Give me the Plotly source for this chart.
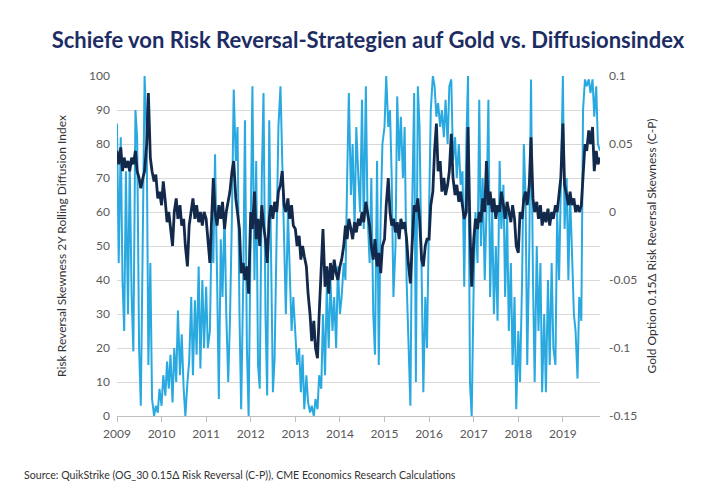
import pandas as pd
import plotly.graph_objects as go

# half-monthly readings, Jan 2009 - Oct 2019
diffusion_2009 = [86, 45, 82, 40, 25, 72, 30, 74, 35, 19, 90, 82, 20, 3, 55, 100, 83, 15, 45, 5, 0, 3, 1, 8]
diffusion_2010 = [3, 12, 6, 16, 8, 18, 4, 20, 10, 31, 12, 24, 8, 0, 10, 16, 35, 12, 34, 18, 44, 14, 40, 20]
diffusion_2011 = [38, 20, 25, 55, 45, 77, 40, 5, 52, 35, 60, 30, 10, 28, 60, 96, 75, 85, 30, 2, 40, 87, 20, 0]
diffusion_2012 = [55, 97, 40, 75, 15, 8, 70, 95, 30, 6, 87, 50, 7, 17, 60, 85, 97, 75, 50, 30, 60, 45, 25, 35]
diffusion_2013 = [22, 15, 20, 7, 18, 2, 12, 4, 1, 3, 0, 5, 2, 12, 8, 30, 12, 38, 20, 40, 25, 35, 20, 44]
diffusion_2014 = [30, 35, 45, 40, 70, 95, 65, 80, 55, 85, 70, 60, 93, 55, 97, 60, 45, 70, 30, 18, 75, 15, 60, 80]
diffusion_2015 = [85, 100, 85, 90, 70, 35, 50, 94, 75, 88, 70, 85, 40, 25, 3, 60, 95, 10, 97, 85, 40, 7, 35, 20]
diffusion_2016 = [60, 90, 100, 97, 88, 92, 85, 90, 82, 93, 80, 97, 99, 75, 82, 70, 80, 68, 72, 38, 80, 100, 10, 0]
diffusion_2017 = [40, 60, 45, 93, 50, 70, 40, 60, 93, 35, 60, 30, 50, 28, 75, 55, 68, 35, 60, 25, 45, 15, 35, 2]
diffusion_2018 = [25, 10, 40, 80, 65, 15, 50, 99, 40, 10, 50, 25, 45, 7, 30, 7, 40, 15, 45, 20, 15, 60, 40, 70]
diffusion_2019 = [100, 55, 70, 40, 65, 50, 30, 25, 11, 35, 28, 90, 99, 97, 99, 95, 99, 88, 97, 80, 78]

skew_2009 = [0.045, 0.035, 0.0475, 0.03, 0.04, 0.0325, 0.0375, 0.03, 0.04, 0.035, 0.045, 0.03,
             0.025, 0.0175, 0.025, 0.03, 0.05, 0.0875, 0.04, 0.03, 0.0225, 0.0275, 0.01, 0.015]
skew_2010 = [0.005, 0.0225, 0.0075, -0.0075, 0, -0.0125, -0.025, 0, 0.01, -0.005, 0.005, -0.01,
             -0.005, -0.025, -0.04, -0.01, 0, 0.01, -0.005, 0.005, -0.0075, 0, -0.01, 0]
skew_2011 = [-0.005, -0.02, -0.0375, -0.005, 0.025, 0, -0.01, 0.005, -0.005, 0.0075, -0.0125, 0,
             0.01, 0.015, 0.03, 0.0375, 0.01, 0, -0.0125, -0.045, -0.0375, -0.05, -0.04, -0.06]
skew_2012 = [0, -0.0125, 0.015, -0.02, -0.005, -0.025, 0.005, -0.01, -0.02, -0.0375, -0.005, 0.005,
             -0.005, 0.0075, 0, 0.015, 0.02, 0.03, 0.005, 0, 0.01, -0.005, 0.005, -0.01]
skew_2013 = [-0.0125, -0.025, -0.0175, -0.035, -0.025, -0.0325, -0.04, -0.06, -0.075, -0.095, -0.08, -0.1,
             -0.1075, -0.075, -0.045, -0.0125, -0.055, -0.04, -0.06, -0.0375, -0.05, -0.035, -0.045, -0.05]
skew_2014 = [-0.04, -0.035, -0.025, -0.01, -0.02, -0.005, -0.0125, -0.02, -0.0075, -0.015, -0.005, -0.01,
             0, -0.0075, 0.0075, 0, -0.01, -0.025, -0.035, -0.02, -0.04, -0.03, -0.045, -0.025]
skew_2015 = [-0.02, 0.005, 0.025, 0, -0.01, -0.005, -0.015, -0.0075, -0.02, -0.005, -0.0125, -0.0075,
             -0.02, -0.0375, -0.0525, -0.025, 0.005, 0, 0.01, -0.005, -0.035, -0.04, -0.025, -0.02]
skew_2016 = [-0.02, 0.005, 0.015, 0.045, 0.065, 0.03, 0.0375, 0.015, 0.025, 0.0125, 0.02, 0.03,
             0.0575, 0.025, 0.0125, 0.02, 0.0075, 0.015, 0.005, -0.005, 0, 0.0625, -0.0125, -0.055]
skew_2017 = [-0.02, -0.005, -0.0125, 0, -0.0075, 0.01, 0, 0.0375, 0.005, 0.015, 0, 0.01,
             -0.005, 0.005, 0, 0.015, 0.005, -0.005, 0.0075, 0, -0.0075, 0.005, -0.005, -0.025]
skew_2018 = [-0.03, 0, -0.005, 0.01, 0.015, 0.005, 0.02, 0.055, 0.01, 0, 0.0075, -0.005,
             0.005, -0.01, 0, -0.0075, 0.0025, -0.01, 0, -0.005, 0.005, 0, 0.015, 0.025]
skew_2019 = [0.065, 0.02, 0.0125, 0.005, 0.015, 0.005, 0.01, 0, 0.005, 0, 0.005, 0.03,
             0.05, 0.045, 0.06, 0.05, 0.0625, 0.03, 0.045, 0.035, 0.04]

diffusion = (diffusion_2009 + diffusion_2010 + diffusion_2011 + diffusion_2012 + diffusion_2013 +
             diffusion_2014 + diffusion_2015 + diffusion_2016 + diffusion_2017 + diffusion_2018 + diffusion_2019)
skew = (skew_2009 + skew_2010 + skew_2011 + skew_2012 + skew_2013 + skew_2014 +
        skew_2015 + skew_2016 + skew_2017 + skew_2018 + skew_2019)

dates = pd.date_range("2009-01-01", periods=len(diffusion), freq="SMS")

year_ticks = [str(y) for y in range(2009, 2020)]
right_ticks = [-0.15, -0.1, -0.05, 0, 0.05, 0.1]
right_labels = ["-0.15", "-0.1", "-0.05", "0", "0.05", "0.1"]

fig = go.Figure()
fig.add_trace(go.Scatter(x=dates, y=diffusion, mode="lines", yaxis="y",
                         line=dict(color="#29a9e0", width=2)))
fig.add_trace(go.Scatter(x=dates, y=skew, mode="lines", yaxis="y2",
                         line=dict(color="#13294b", width=2.8)))

# page body adds 8px, so margins are pulled in by that much
fig.update_layout(
    width=720, height=500,
    margin=dict(l=109, r=128, t=68, b=92),
    paper_bgcolor="white", plot_bgcolor="white",
    showlegend=False,
    font=dict(family="Lato", color="#595959", size=12),
    title=dict(text="<b>Schiefe von Risk Reversal-Strategien auf Gold vs. Diffusionsindex</b>",
               x=0.5, xanchor="center", y=0.936, yanchor="middle",
               font=dict(family="Lato", size=22, color="#1d2d64")),
    xaxis=dict(type="date", range=["2009-01-01", "2019-11-01"],
               tickvals=[y + "-01-01" for y in year_ticks], ticktext=year_ticks,
               showgrid=False, showline=True, linecolor="#bfbfbf", linewidth=1,
               ticks="outside", ticklen=5, tickcolor="#bfbfbf", zeroline=False,
               ticklabelstandoff=2),
    yaxis=dict(range=[0, 100], dtick=10, showgrid=True, gridcolor="#d9d9d9",
               zeroline=False, ticklabelstandoff=6, automargin=False,
               title=dict(text="Risk Reversal Skewness 2Y Rolling Diffusion Index",
                          font=dict(size=12, color="#333333"), standoff=19)),
    yaxis2=dict(range=[-0.15, 0.1], overlaying="y", side="right",
                tickvals=right_ticks, ticktext=right_labels, showgrid=False,
                zeroline=False, ticklabelstandoff=8, automargin=False,
                title=dict(text="Gold Option 0.15Δ Risk Reversal Skewness (C-P)",
                           font=dict(size=12, color="#333333"), standoff=11)),
    annotations=[dict(text="Source: QuikStrike (OG_30 0.15Δ Risk Reversal (C-P)), CME Economics Research Calculations",
                      xref="paper", yref="paper", x=-0.197, y=-0.1735,
                      xanchor="left", yanchor="middle", showarrow=False,
                      font=dict(size=10.6, color="#333333"))],
)

fig.write_html("out.html")
